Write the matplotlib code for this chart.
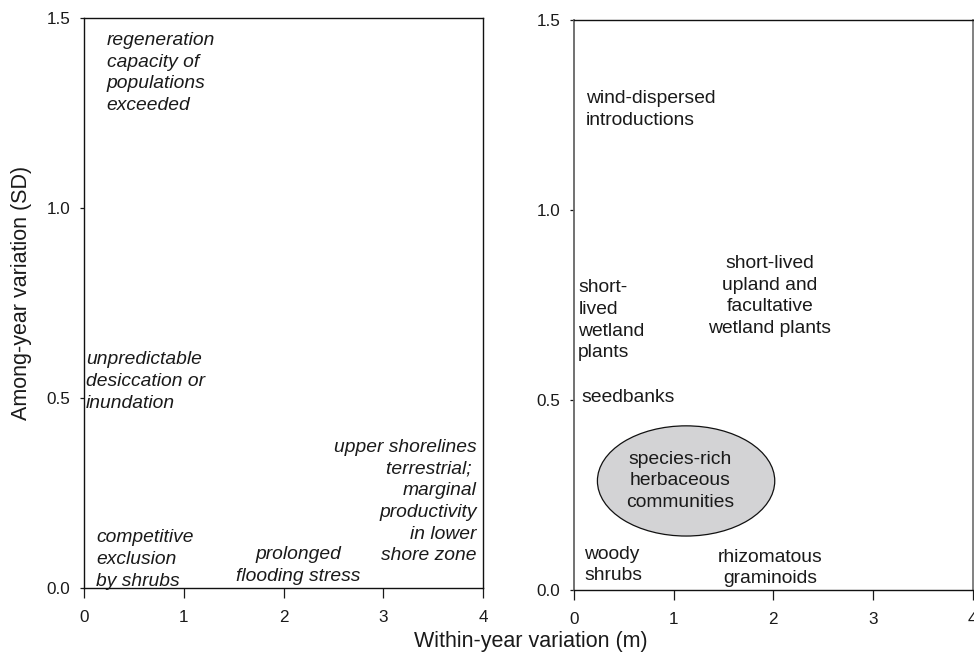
import matplotlib
matplotlib.use("Agg")
import matplotlib.pyplot as plt
from matplotlib.patches import Ellipse

plt.rcParams['font.family'] = ['Liberation Sans', 'DejaVu Sans']

# ---- data ----
x_ticks = [0, 1, 2, 3, 4]
y_ticks = [0.0, 0.5, 1.0, 1.5]
y_tick_labels = ["0.0", "0.5", "1.0", "1.5"]

left_labels = [
    "regeneration\ncapacity of\npopulations\nexceeded",
    "unpredictable\ndesiccation or\ninundation",
    "upper shorelines\nterrestrial; \nmarginal\nproductivity\nin lower\nshore zone",
    "competitive\nexclusion\nby shrubs",
    "prolonged\nflooding stress",
]
left_x = [0.227, 0.02, 3.935, 0.12, 2.144]
left_y = [1.462, 0.622, 0.391, 0.154, 0.109]
left_ha = ["left", "left", "right", "left", "center"]

right_labels = [
    "wind-dispersed\nintroductions",
    "short-\nlived\nwetland\nplants",
    "short-lived\nupland and\nfacultative\nwetland plants",
    "seedbanks",
    "species-rich\nherbaceous\ncommunities",
    "woody\nshrubs",
    "rhizomatous\ngraminoids",
]
right_x = [0.12, 0.043, 1.965, 0.07, 1.067, 0.10, 1.965]
right_y = [1.315, 0.818, 0.882, 0.529, 0.367, 0.117, 0.109]
right_ha = ["left", "left", "center", "left", "center", "left", "center"]

ellipse_center = (1.125, 0.287)
ellipse_width = 1.78
ellipse_height = 0.29

TXT = "#1a1a1a"
FS = 13.9
LS = 1.36

fig = plt.figure(figsize=(9.74, 6.53), dpi=100)
axL = fig.add_axes([84/974, 1-587.7/653, (483.3-84)/974, (587.7-17.5)/653])
axR = fig.add_axes([574/974, 1-590/653, (972.5-574)/974, (590-20)/653])

for ax in (axL, axR):
    ax.set_xlim(0, 4)
    ax.set_ylim(0, 1.5)
    ax.set_xticks(x_ticks)
    ax.set_yticks(y_ticks)
    ax.set_yticklabels(y_tick_labels)
    ax.tick_params(axis='x', direction='out', length=7, width=0.9, pad=9,
                   labelsize=12.3, colors=TXT)
    ax.tick_params(axis='y', direction='out', length=3, width=0.9, pad=7,
                   labelsize=12.3, colors=TXT)
    for s in ax.spines.values():
        s.set_linewidth(1.0)
        s.set_color("#111111")

axR.spines['left'].set_color("#666666")
axR.spines['left'].set_linewidth(1.3)
axR.spines['right'].set_color("#777777")
axR.spines['right'].set_linewidth(1.3)

for lab, x, y, ha in zip(left_labels, left_x, left_y, left_ha):
    axL.text(x, y, lab, ha=ha, va='top', fontsize=FS, style='italic',
             color=TXT, linespacing=LS, multialignment=ha)

axR.add_patch(Ellipse(ellipse_center, ellipse_width, ellipse_height,
                      facecolor="#d3d3d5", edgecolor="#111111", linewidth=0.9,
                      zorder=1))

for lab, x, y, ha in zip(right_labels, right_x, right_y, right_ha):
    axR.text(x, y, lab, ha=ha, va='top', fontsize=FS, color=TXT,
             linespacing=LS, multialignment=ha, zorder=3)

fig.text(22/974, 1-293/653, "Among-year variation (SD)", rotation=90,
         ha='center', va='center', fontsize=15.5, color=TXT)
fig.text(531/974, 1-642/653, "Within-year variation (m)",
         ha='center', va='center', fontsize=15.5, color=TXT)

fig.savefig("out.png", dpi=100)
